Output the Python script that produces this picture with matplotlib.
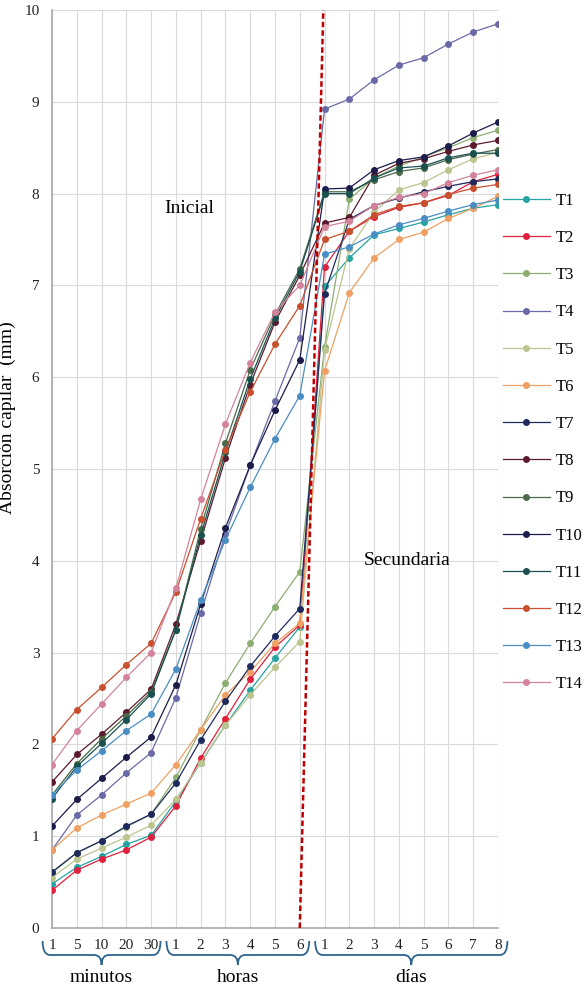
import matplotlib
matplotlib.use("Agg")
import matplotlib.pyplot as plt
import numpy as np
from matplotlib.path import Path
from matplotlib.patches import PathPatch
import matplotlib.transforms as mtransforms

# ---------------- data ----------------
tick_labels = ["1", "5", "10", "20", "30",
               "1", "2", "3", "4", "5", "6",
               "1", "2", "3", "4", "5", "6", "7", "8"]
groups = ["minutos", "horas", "días"]
group_ranges = [(0, 4), (5, 10), (11, 18)]

series_names = ["T1", "T2", "T3", "T4", "T5", "T6", "T7",
                "T8", "T9", "T10", "T11", "T12", "T13", "T14"]

T1 = [0.48, 0.66, 0.78, 0.91, 1.01, 1.38, 1.80, 2.21, 2.59, 2.94, 3.28,
      6.99, 7.30, 7.55, 7.62, 7.69, 7.77, 7.84, 7.88]
T2 = [0.41, 0.63, 0.75, 0.85, 0.99, 1.33, 1.85, 2.28, 2.71, 3.06, 3.30,
      7.20, 7.59, 7.75, 7.85, 7.90, 7.98, 8.13, 8.21]
T3 = [0.60, 0.82, 0.95, 1.10, 1.24, 1.64, 2.16, 2.67, 3.10, 3.50, 3.88,
      6.33, 7.94, 8.17, 8.30, 8.40, 8.50, 8.61, 8.69]
T4 = [0.85, 1.23, 1.45, 1.69, 1.91, 2.51, 3.43, 4.29, 5.04, 5.74, 6.43,
      8.92, 9.03, 9.24, 9.40, 9.48, 9.63, 9.76, 9.85]
T5 = [0.55, 0.75, 0.87, 0.99, 1.12, 1.40, 1.80, 2.21, 2.54, 2.84, 3.12,
      6.30, 7.40, 7.80, 8.04, 8.12, 8.26, 8.38, 8.45]
T6 = [0.85, 1.09, 1.23, 1.35, 1.47, 1.78, 2.16, 2.54, 2.79, 3.10, 3.32,
      6.07, 6.92, 7.30, 7.50, 7.58, 7.73, 7.84, 7.97]
T7 = [0.61, 0.82, 0.95, 1.11, 1.24, 1.58, 2.05, 2.47, 2.85, 3.18, 3.48,
      6.91, 7.72, 7.87, 7.95, 8.02, 8.08, 8.13, 8.16]
T8 = [1.59, 1.89, 2.11, 2.35, 2.60, 3.31, 4.22, 5.12, 5.92, 6.60, 7.11,
      7.68, 7.74, 8.20, 8.33, 8.38, 8.46, 8.53, 8.58]
T9 = [1.45, 1.79, 2.06, 2.31, 2.57, 3.25, 4.35, 5.28, 6.08, 6.68, 7.18,
      8.02, 8.02, 8.15, 8.24, 8.28, 8.37, 8.43, 8.48]
T10 = [1.11, 1.40, 1.63, 1.86, 2.08, 2.65, 3.53, 4.36, 5.04, 5.64, 6.19,
       8.05, 8.06, 8.26, 8.36, 8.40, 8.52, 8.66, 8.78]
T11 = [1.41, 1.76, 2.01, 2.27, 2.55, 3.25, 4.28, 5.18, 5.98, 6.64, 7.15,
       8.00, 8.00, 8.17, 8.28, 8.30, 8.39, 8.44, 8.44]
T12 = [2.06, 2.38, 2.62, 2.87, 3.10, 3.66, 4.46, 5.21, 5.84, 6.36, 6.78,
       7.50, 7.59, 7.77, 7.86, 7.90, 7.99, 8.06, 8.10]
T13 = [1.45, 1.72, 1.93, 2.15, 2.33, 2.82, 3.57, 4.23, 4.80, 5.33, 5.80,
       7.34, 7.42, 7.56, 7.66, 7.73, 7.81, 7.88, 7.93]
T14 = [1.78, 2.15, 2.44, 2.73, 3.00, 3.70, 4.67, 5.49, 6.16, 6.71, 7.00,
       7.64, 7.70, 7.87, 7.96, 8.00, 8.12, 8.20, 8.26]

all_series = [T1, T2, T3, T4, T5, T6, T7, T8, T9, T10, T11, T12, T13, T14]

colors = ["#26A3A3", "#E0203C", "#8DAE72", "#6A6AA8", "#BCC58E", "#F0A062",
          "#1E2A5E", "#5C1A2E", "#4A6A4A", "#1C1C4A", "#1A5050", "#C8502E",
          "#4A8EC4", "#D4849A"]

# separator between initial and secondary absorption
sep_x = (10.0, 10.95)
sep_y = (0.0, 10.0)

# ---------------- figure ----------------
plt.rcParams['font.family'] = ['Liberation Serif', 'DejaVu Serif']
fig = plt.figure(figsize=(5.84, 9.91), dpi=100)
ax = fig.add_axes([52 / 584, 1 - 928 / 991, (498 - 52) / 584, (928 - 10) / 991])

x = np.arange(len(tick_labels))
for name, vals, c in zip(series_names, all_series, colors):
    ax.plot(x, vals, color=c, lw=0.9, marker='o', ms=4, mec=c, mfc=c,
            label=name, zorder=3)

ax.plot(sep_x, sep_y, color="#C00000", lw=1.8, ls=(0, (2.2, 1.2)), zorder=4)

ax.set_xlim(0, len(tick_labels) - 1)
ax.set_ylim(0, 10)
ax.set_xticks(x)
ax.set_xticklabels(tick_labels, fontsize=11)
ax.set_yticks(range(0, 11))
ax.tick_params(axis='both', length=0, labelsize=11, colors='#222222')
ax.tick_params(axis='x', pad=8)
ax.tick_params(axis='y', pad=9)
ax.grid(True, color='#DADADA', lw=0.8)
ax.set_axisbelow(True)
for s in ['top', 'right']:
    ax.spines[s].set_visible(False)
for s in ['left', 'bottom']:
    ax.spines[s].set_color('#A8A8A8')
    ax.spines[s].set_linewidth(1.2)

ax.set_ylabel("Absorción capilar  (mm)", fontsize=14)
ax.yaxis.set_label_coords((16 - 52) / 446, (928 - 418) / 918)

ax.text(5.52, 7.84, "Inicial", fontsize=14, ha='center', va='center')
ax.text(14.35, 4.0, "Secundaria", fontsize=14, ha='center', va='center')

# ---------------- braces ----------------
trans = mtransforms.blended_transform_factory(ax.transData, ax.transAxes)


def brace(xa, xb, ytop, ymid, ytip, r=0.3):
    xm = 0.5 * (xa + xb)
    verts = [(xa, ytop), (xa, ymid), (xa + r, ymid),
             (xm - r, ymid),
             (xm, ymid), (xm, ytip),
             (xm, ymid), (xm + r, ymid),
             (xb - r, ymid),
             (xb, ymid), (xb, ytop)]
    codes = [Path.MOVETO, Path.CURVE3, Path.CURVE3,
             Path.LINETO,
             Path.CURVE3, Path.CURVE3,
             Path.CURVE3, Path.CURVE3,
             Path.LINETO,
             Path.CURVE3, Path.CURVE3]
    p = PathPatch(Path(verts, codes), transform=trans, fill=False,
                  edgecolor='#2E6490', lw=1.3, clip_on=False)
    ax.add_patch(p)


ytop = (928 - 941) / 918
ymid = (928 - 955) / 918
ytip = (928 - 965) / 918
for (a, b), g in zip(group_ranges, groups):
    xa = a - 0.38
    xb = b + 0.38
    brace(xa, xb, ytop, ymid, ytip)
    ax.text(0.5 * (xa + xb), (928 - 978) / 918, g, transform=trans,
            ha='center', va='center', fontsize=14)

# ---------------- legend ----------------
fig.legend(loc='upper left', bbox_to_anchor=(503 / 584, 1 - 193 / 991),
           frameon=False, fontsize=12, handlelength=2.8, handletextpad=0.35,
           labelspacing=1.27, borderpad=0, borderaxespad=0)

fig.savefig("out.png", dpi=100)
